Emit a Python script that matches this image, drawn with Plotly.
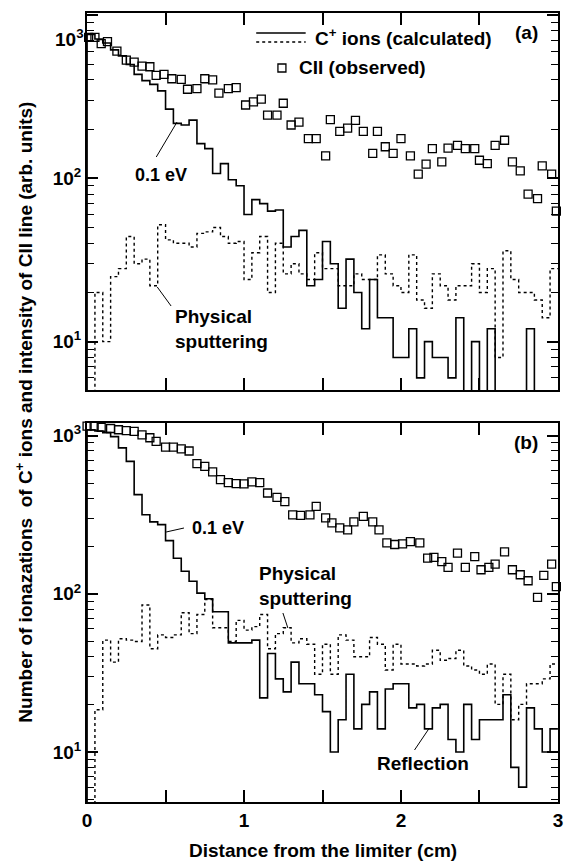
import numpy as np
import plotly.graph_objects as go

# ---------------- data ----------------
BIN_W = 0.05  # cm, histogram bin width

# panel (a)
a_solid = [760, 712, 673, 611, 562, 497, 433, 396, 376, 343,
           265, 217, 212, 227, 163, 152, 107, 123, 98, 90,
           60, 74, 70, 63, 64, 38, 44, 48, 22, 24,
           41, 30, 16, 32, 20, 12, 24, 14, 14, 8,
           8, 12, 6, 10, 8, 8, 6, 14, 0, 10,
           0, 12, 0, 0, 0, 0, 12, 0, 0, 0]
a_dotted = [0, 20, 10, 25, 28, 44, 30, 32, 22, 52,
            42, 40, 40, 38, 46, 47, 50, 44, 40, 41,
            24, 35, 44, 20, 40, 26, 30, 26, 24, 35,
            28, 28, 22, 22, 26, 24, 24, 34, 26, 22,
            20, 34, 18, 16, 26, 22, 18, 22, 22, 30,
            20, 28, 8, 36, 24, 20, 20, 18, 14, 28]
a_obs_x = [0.01, 0.05, 0.09, 0.13, 0.19, 0.25, 0.30, 0.35, 0.40, 0.44,
           0.49, 0.54, 0.60, 0.64, 0.70, 0.75, 0.80, 0.84, 0.90, 0.95,
           1.01, 1.06, 1.11, 1.15, 1.21, 1.25, 1.30, 1.35, 1.41, 1.46,
           1.52, 1.55, 1.61, 1.66, 1.71, 1.76, 1.82, 1.85, 1.90, 1.95,
           2.00, 2.06, 2.11, 2.16, 2.20, 2.26, 2.30, 2.36, 2.41, 2.47,
           2.50, 2.55, 2.60, 2.66, 2.71, 2.76, 2.81, 2.87, 2.90, 2.96, 2.99]
a_obs_y = [730, 730, 667, 686, 600, 529, 514, 486, 482, 427,
           433, 407, 403, 351, 354, 407, 400, 332, 354, 359,
           281, 294, 305, 244, 244, 288, 212, 221, 175, 175,
           137, 229, 194, 203, 226, 194, 142, 194, 156, 142,
           175, 137, 106, 122, 152, 126, 153, 159, 152, 152,
           129, 123, 159, 171, 126, 111, 80, 75, 119, 106, 63]

# panel (b)
b_solid = [1090, 1070, 1045, 986, 837, 688, 424, 316, 285, 274,
           217, 168, 139, 120, 101, 93, 77, 77, 49, 49,
           49, 51, 22, 42, 29, 24, 37, 27, 27, 23,
           18, 10, 16, 31, 14, 20, 24, 14, 25, 27,
           27, 19, 20, 14, 19, 20, 12, 10, 20, 12,
           16, 16, 16, 23, 8, 6, 19, 14, 10, 14]
b_dotted = [0, 18.5, 51, 37, 52, 51, 50, 85, 45, 55,
            53, 55, 76, 56, 74, 92, 61, 61, 50, 68,
            59, 62, 74, 45, 56, 61, 49, 52, 48, 31,
            48, 31, 55, 51, 40, 40, 53, 48, 33, 48,
            36, 36, 35, 36, 44, 38, 39, 44, 35, 33,
            31, 36, 20, 31, 16, 20, 27, 27, 29, 36]
b_obs_x = [0.00, 0.045, 0.09, 0.15, 0.20, 0.25, 0.30, 0.35, 0.40, 0.44,
           0.50, 0.55, 0.60, 0.65, 0.70, 0.75, 0.80, 0.85, 0.90, 0.95,
           1.00, 1.05, 1.10, 1.15, 1.21, 1.26, 1.31, 1.36, 1.42, 1.46,
           1.52, 1.56, 1.61, 1.66, 1.70, 1.76, 1.82, 1.86, 1.91, 1.96,
           2.01, 2.06, 2.12, 2.17, 2.21, 2.26, 2.30, 2.36, 2.41, 2.47,
           2.51, 2.56, 2.60, 2.66, 2.71, 2.76, 2.81, 2.87, 2.91, 2.96, 2.99]
b_obs_y = [1150, 1150, 1130, 1110, 1090, 1075, 1065, 1010, 970, 920,
           845, 845, 825, 800, 665, 640, 590, 527, 505, 497,
           495, 510, 505, 434, 407, 383, 316, 313, 316, 357,
           302, 281, 261, 254, 285, 309, 285, 254, 210, 205,
           207, 214, 210, 168, 170, 160, 147, 181, 147, 172,
           142, 147, 154, 184, 142, 132, 121, 95, 131, 154, 111]

x_tick_vals = [0, 0.5, 1, 1.5, 2, 2.5, 3]
x_tick_text = ["0", "", "1", "", "2", "", "3"]
y_tick_vals = [10, 100, 1000]

# ---------------- helpers ----------------
edges = np.round(np.arange(len(a_solid) + 1) * BIN_W, 3)
FLOOR = 1.0  # empty bins fall below the visible axis range


def step_xy(vals):
    v = np.array(vals, float)
    v = np.where(v > 0, v, FLOOR)
    x = np.concatenate([[edges[0]], edges])
    y = np.concatenate([[FLOOR], v, [v[-1]]])
    return x, y


FONT = "Liberation Sans"
BLACK = "black"

fig = go.Figure()

for vals, dash, ax_x, ax_y in [(a_solid, "solid", "x", "y"), (a_dotted, "dot", "x", "y"),
                               (b_solid, "solid", "x2", "y2"), (b_dotted, "dot", "x2", "y2")]:
    sx, sy = step_xy(vals)
    fig.add_trace(go.Scatter(x=sx, y=sy, mode="lines", line_shape="hv",
                             line=dict(color=BLACK, width=1.6 if dash == "solid" else 1.4, dash=dash),
                             xaxis=ax_x, yaxis=ax_y, showlegend=False, hoverinfo="skip"))

for ox, oy, ax_x, ax_y in [(a_obs_x, a_obs_y, "x", "y"), (b_obs_x, b_obs_y, "x2", "y2")]:
    fig.add_trace(go.Scatter(x=ox, y=oy, mode="markers",
                             marker=dict(symbol="square-open", size=8, color=BLACK,
                                         line=dict(width=1.3, color=BLACK)),
                             cliponaxis=False,
                             xaxis=ax_x, yaxis=ax_y, showlegend=False))

minor_vals = [m * 10 ** k for k in range(0, 4) for m in range(2, 10)]

xcommon = dict(range=[-0.0005, 3.0005], tickmode="array", tickvals=x_tick_vals, ticktext=x_tick_text,
               ticks="inside", ticklen=12, tickwidth=1.5, tickcolor=BLACK,
               showline=True, linewidth=2, linecolor=BLACK, mirror="ticks",
               showgrid=False, zeroline=False, ticklabeloverflow="allow",
               tickfont=dict(family=FONT, size=19, color=BLACK, weight="bold"))
ycommon = dict(type="log", tickmode="array", tickvals=y_tick_vals,
               ticks="inside", ticklen=11, tickwidth=1.5, tickcolor=BLACK,
               showline=True, linewidth=2, linecolor=BLACK, mirror="ticks",
               showgrid=False, zeroline=False, ticklabeloverflow="allow",
               tickfont=dict(family=FONT, size=19, color=BLACK, weight="bold"),
               minor=dict(tickmode="array", tickvals=minor_vals, ticks="inside",
                          ticklen=7, tickwidth=1.2, tickcolor=BLACK, showgrid=False))

ML, MR, MT, MB = 87, 2, 13, 60
W, H = 565, 862
PW, PH = W - ML - MR, H - MT - MB


def px(x):
    return (x - ML) / PW


def py(y):
    return (H - MB - y) / PH


fig.update_layout(
    width=W, height=H, margin=dict(l=ML, r=MR, t=MT, b=MB),
    paper_bgcolor="white", plot_bgcolor="white",
    xaxis=dict(xcommon, anchor="y", domain=[0, 1], showticklabels=False),
    yaxis=dict(ycommon, anchor="x", domain=[py(390), 1], range=[0.704, 3.012],
               ticktext=["10<sup>1</sup>", "10<sup>2</sup>", ""]),
    xaxis2=dict(xcommon, anchor="y2", domain=[0, 1]),
    yaxis2=dict(ycommon, anchor="x2", domain=[0, py(423)], range=[0.684, 3.08],
                ticktext=["10<sup>1</sup>", "10<sup>2</sup>", "10<sup>3</sup>"]),
)

tfont = dict(family=FONT, size=19, color=BLACK, weight="bold")
ann = []


def text(x, y, s, xanchor="center", align="center", size=19, angle=0):
    ann.append(dict(xref="paper", yref="paper", x=px(x), y=py(y), text=s, showarrow=False,
                    xanchor=xanchor, yanchor="middle", align=align, textangle=angle,
                    font=dict(tfont, size=size)))


# top 10^3 label drawn lower than the frame, as in the original
text(86, 38, "10<sup>3</sup>", xanchor="right", size=19)
# legend
text(315, 37, "C<sup>+</sup> ions (calculated)", xanchor="left")
text(299, 68, "CII (observed)", xanchor="left")
text(531, 33, "(a)")
text(531, 442, "(b)")
# labels
text(162, 175, "0.1 eV", size=18)
text(174, 329, "Physical<br>sputtering", xanchor="left", align="left")
text(219, 528, "0.1 eV", size=18)
text(259, 586, "Physical<br>sputtering", xanchor="left", align="left")
text(427, 763, "Reflection")
# axis titles
text(325, 850, "Distance from the limiter (cm)")
text(23, 412, "Number of ionazations\u00a0 of C<sup>+</sup> ions and intensity of CII line (arb. units)",
     angle=-90, size=19)

fig.update_layout(annotations=ann)

shapes = []
# legend samples
shapes.append(dict(type="line", xref="paper", yref="paper", x0=px(258), x1=px(308), y0=py(33), y1=py(33),
                   line=dict(color=BLACK, width=1.6)))
shapes.append(dict(type="line", xref="paper", yref="paper", x0=px(258), x1=px(308), y0=py(42), y1=py(42),
                   line=dict(color=BLACK, width=1.4, dash="dot")))
shapes.append(dict(type="rect", xref="paper", yref="paper", xsizemode="pixel", ysizemode="pixel",
                   xanchor=px(284), yanchor=py(68), x0=-4, x1=4, y0=-4, y1=4,
                   line=dict(color=BLACK, width=1.3)))
# pointer lines
for (x0, y0, x1, y1) in [(157, 157, 178, 122), (158, 287, 172, 306),
                         (167, 532, 185, 528), (285, 613, 290, 628), (418, 750, 433, 728)]:
    shapes.append(dict(type="line", xref="paper", yref="paper", x0=px(x0), y0=py(y0),
                       x1=px(x1), y1=py(y1), line=dict(color=BLACK, width=1)))
fig.update_layout(shapes=shapes)

fig.write_html("out.html")
